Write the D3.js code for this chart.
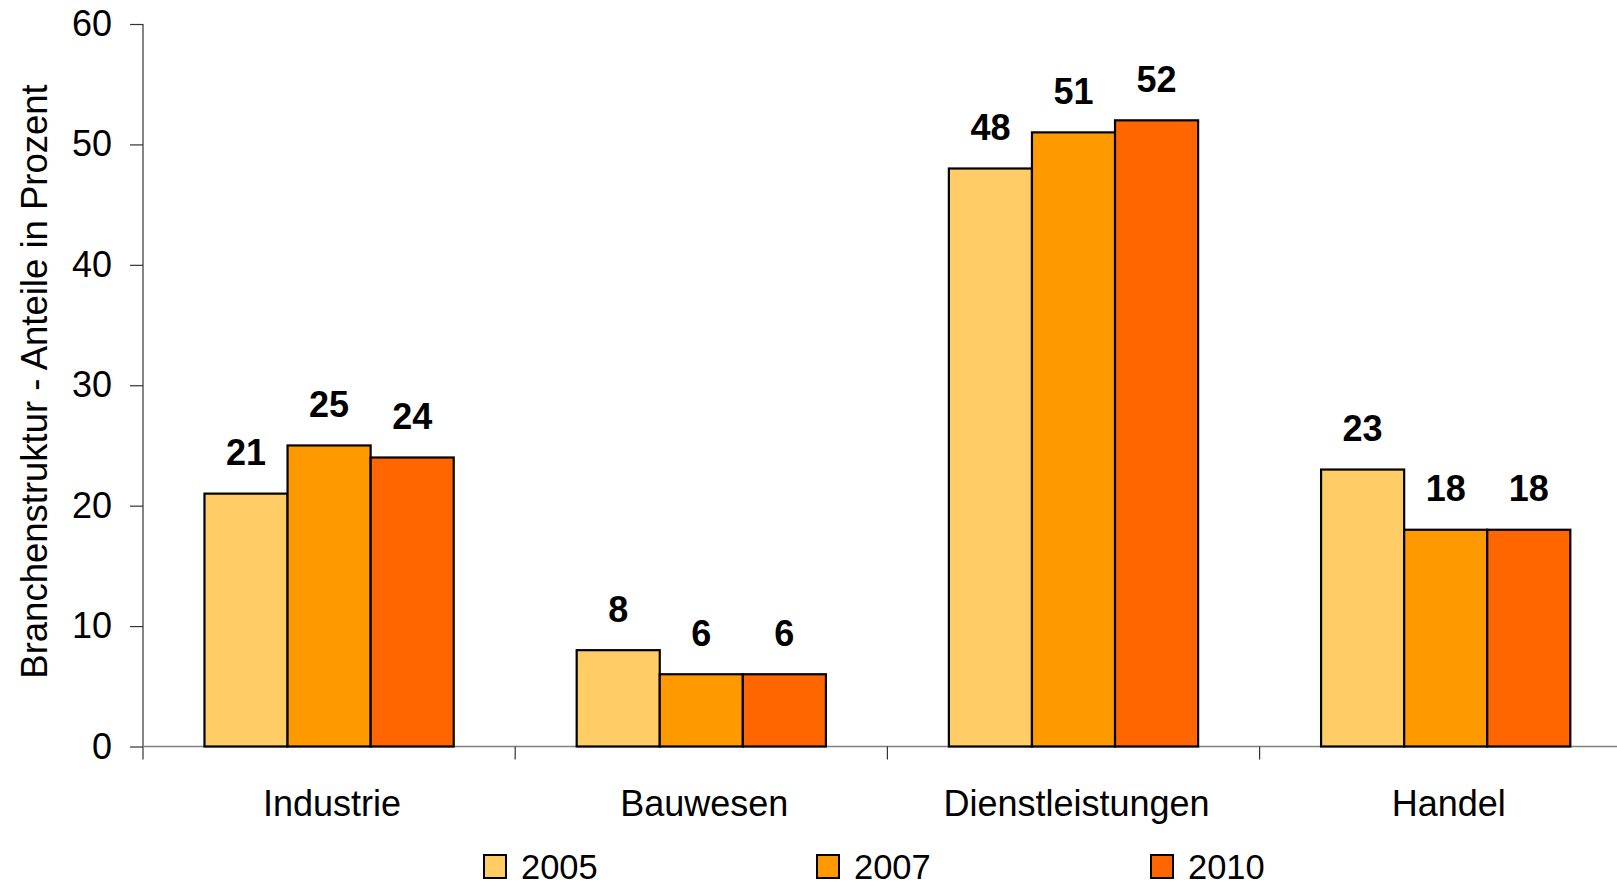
<!DOCTYPE html>
<html>
<head>
<meta charset="utf-8">
<script src="https://cdn.jsdelivr.net/npm/d3@7/dist/d3.min.js"></script>
<style>
  html, body { margin: 0; padding: 0; background: #fff; }
  svg { display: block; font-family: "Liberation Sans", Arial, sans-serif; }
</style>
</head>
<body>
<svg id="chart" width="1617" height="887"></svg>
<script>
const categories = ["Industrie", "Bauwesen", "Dienstleistungen", "Handel"];
const seriesNames = ["2005", "2007", "2010"];
const values2005 = [21, 8, 48, 23];
const values2007 = [25, 6, 51, 18];
const values2010 = [24, 6, 52, 18];
const seriesColors = ["#FFCC66", "#FF9900", "#FF6600"];
const yTicks = [0, 10, 20, 30, 40, 50, 60];
const yTitle = "Branchenstruktur - Anteile in Prozent";

const seriesValues = [values2005, values2007, values2010];

const svg = d3.select("#chart");

const xLeft = 143, catStep = 372.2;
const x0 = d3.scaleBand().domain(categories).range([xLeft, xLeft + catStep * categories.length]).padding(0);
const x1 = d3.scaleBand().domain(seriesNames).range([0, x0.bandwidth()]).paddingInner(0).paddingOuter(0.74);
const y = d3.scaleLinear().domain([0, 60]).range([746.5, 24]);

// Y axis
const yAxis = d3.axisLeft(y).tickValues(yTicks).tickSize(13).tickPadding(18);
const gy = svg.append("g").attr("transform", `translate(${xLeft},0)`).call(yAxis);
gy.select(".domain").remove();
gy.selectAll(".tick line").attr("stroke", "#333").attr("stroke-width", 1.2);
gy.selectAll(".tick text").attr("font-size", 36).attr("fill", "#000")
  .attr("font-family", "'Liberation Sans', Arial, sans-serif");
svg.append("line").attr("x1", xLeft).attr("x2", xLeft).attr("y1", y(60)).attr("y2", y(0) + 13)
  .attr("stroke", "#333").attr("stroke-width", 1.2);

// X axis baseline and category ticks
svg.append("line").attr("x1", xLeft).attr("x2", 1617).attr("y1", y(0)).attr("y2", y(0))
  .attr("stroke", "#808080").attr("stroke-width", 1.5);
svg.append("g").selectAll("line").data(categories.slice(1)).join("line")
  .attr("x1", d => x0(d)).attr("x2", d => x0(d))
  .attr("y1", y(0)).attr("y2", y(0) + 13)
  .attr("stroke", "#333").attr("stroke-width", 1.2);

// Bars
const groups = svg.append("g").selectAll("g").data(categories).join("g")
  .attr("transform", d => `translate(${x0(d)},0)`);
groups.selectAll("rect").data((c, ci) => seriesNames.map((s, si) => ({ s, si, v: seriesValues[si][ci] })))
  .join("rect")
  .attr("x", d => x1(d.s))
  .attr("y", d => y(d.v))
  .attr("width", x1.bandwidth())
  .attr("height", d => y(0) - y(d.v))
  .attr("fill", d => seriesColors[d.si])
  .attr("stroke", "#000").attr("stroke-width", 2.2);

// Value labels
groups.selectAll("text").data((c, ci) => seriesNames.map((s, si) => ({ s, si, v: seriesValues[si][ci] })))
  .join("text")
  .attr("x", d => x1(d.s) + x1.bandwidth() / 2)
  .attr("y", d => y(d.v) - 28.5)
  .attr("text-anchor", "middle")
  .attr("font-size", 36).attr("font-weight", "bold").attr("fill", "#000")
  .text(d => d.v);

// Category labels
svg.append("g").selectAll("text").data(categories).join("text")
  .attr("x", d => x0(d) + x0.bandwidth() / 2 + 3)
  .attr("y", 816)
  .attr("text-anchor", "middle")
  .attr("font-size", 36).attr("fill", "#000")
  .text(d => d);

// Y title
svg.append("text")
  .attr("transform", "translate(47,381.5) rotate(-90)")
  .attr("text-anchor", "middle")
  .attr("font-size", 36.5).attr("fill", "#000")
  .text(yTitle);

// Legend
const legendX = [484, 817, 1151];
const lg = svg.append("g").selectAll("g").data(seriesNames).join("g")
  .attr("transform", (d, i) => `translate(${legendX[i]},855)`);
lg.append("rect").attr("x", 0).attr("y", 0).attr("width", 22).attr("height", 23)
  .attr("fill", (d, i) => seriesColors[i]).attr("stroke", "#000").attr("stroke-width", 2);
lg.append("text").attr("x", 37).attr("y", 24)
  .attr("font-size", 34.5).attr("fill", "#000").text(d => d);
</script>
</body>
</html>
